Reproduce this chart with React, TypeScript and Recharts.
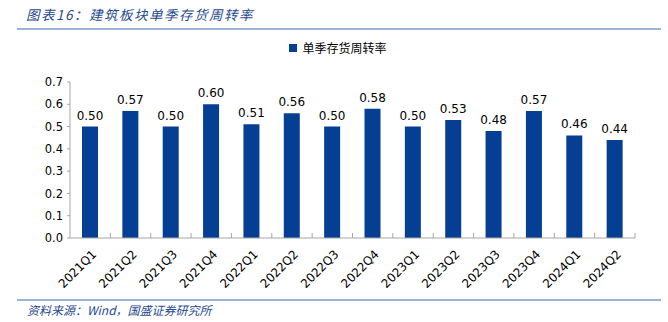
import React from 'react';
import { BarChart, Bar, XAxis, YAxis, LabelList } from 'recharts';

const quarters = [
  '2021Q1', '2021Q2', '2021Q3', '2021Q4',
  '2022Q1', '2022Q2', '2022Q3', '2022Q4',
  '2023Q1', '2023Q2', '2023Q3', '2023Q4',
  '2024Q1', '2024Q2',
];
const turnover = [0.5, 0.57, 0.5, 0.6, 0.51, 0.56, 0.5, 0.58, 0.5, 0.53, 0.48, 0.57, 0.46, 0.44];
const yTicks = [0, 0.1, 0.2, 0.3, 0.4, 0.5, 0.6, 0.7];

const data = quarters.map((q, i) => ({ q, v: turnover[i] }));

const BLUE = '#043f94';
const AXIS = '#a6a6a6';
const FONT = '"DejaVu Sans", Verdana, sans-serif';
const CJK = '"Noto Sans CJK SC", sans-serif';
const PLOT_LEFT = 70;
const PLOT_RIGHT = 635;
const BAND = (PLOT_RIGHT - PLOT_LEFT) / quarters.length;

const QuarterTick = (props: any) => {
  const { x, y, payload } = props;
  const tx = x + 7;
  const ty = y + 17;
  return (
    <g>
      <line x1={x + BAND / 2} x2={x + BAND / 2} y1={y} y2={y - 5} stroke={AXIS} />
      <text
        x={tx}
        y={ty}
        textAnchor="end"
        fontSize={12}
        fontFamily={FONT}
        fill="#000"
        transform={`rotate(-45 ${tx} ${ty})`}
      >
        {payload.value}
      </text>
    </g>
  );
};

export default function App() {
  return (
    <div style={{ position: 'absolute', left: 0, top: 0, width: 668, height: 322, background: '#fff' }}>
      <div
        style={{
          position: 'absolute', left: 26, top: 4, fontSize: 13.5, fontStyle: 'italic',
          color: '#1f4a8f', fontFamily: CJK, letterSpacing: 1.5,
        }}
      >
        图表16：建筑板块单季存货周转率
      </div>
      <div style={{ position: 'absolute', left: 17, top: 28, width: 644, height: 2, background: '#9cb3d8' }} />
      <div
        style={{
          position: 'absolute', left: 0, top: 39, width: 668, display: 'flex', alignItems: 'center',
          justifyContent: 'center', fontFamily: CJK, fontSize: 12, paddingLeft: 4,
        }}
      >
        <span style={{ width: 8, height: 8, background: BLUE, display: 'inline-block', marginRight: 5 }} />
        <span>单季存货周转率</span>
      </div>
      <div style={{ position: 'absolute', left: 0, top: 0 }}>
        <BarChart
          width={668}
          height={322}
          data={data}
          margin={{ top: 82, right: 668 - PLOT_RIGHT, bottom: 54, left: PLOT_LEFT - 40 }}
        >
          <XAxis
            dataKey="q"
            height={30}
            interval={0}
            stroke={AXIS}
            tickLine={false}
            tickSize={0}
            tickMargin={0}
            tick={<QuarterTick />}
          />
          <YAxis
            width={40}
            domain={[0, 0.7]}
            ticks={yTicks}
            interval={0}
            stroke={AXIS}
            tickSize={3}
            tickMargin={4}
            tickFormatter={(v: number) => v.toFixed(1)}
            tick={{ fill: '#000', fontSize: 11.5, fontFamily: FONT }}
          />
          <Bar dataKey="v" fill={BLUE} barSize={16} isAnimationActive={false}>
            <LabelList
              dataKey="v"
              position="top"
              offset={7}
              formatter={(v: number) => v.toFixed(2)}
              style={{ fill: '#000', fontSize: 12, fontFamily: FONT }}
            />
          </Bar>
        </BarChart>
      </div>
      <div style={{ position: 'absolute', left: 17, top: 299, width: 644, height: 2, background: '#9cb3d8' }} />
      <div
        style={{
          position: 'absolute', left: 27, top: 301, fontSize: 12, fontStyle: 'italic',
          color: '#1f4a8f', fontFamily: CJK,
        }}
      >
        资料来源：Wind，国盛证券研究所
      </div>
    </div>
  );
}
